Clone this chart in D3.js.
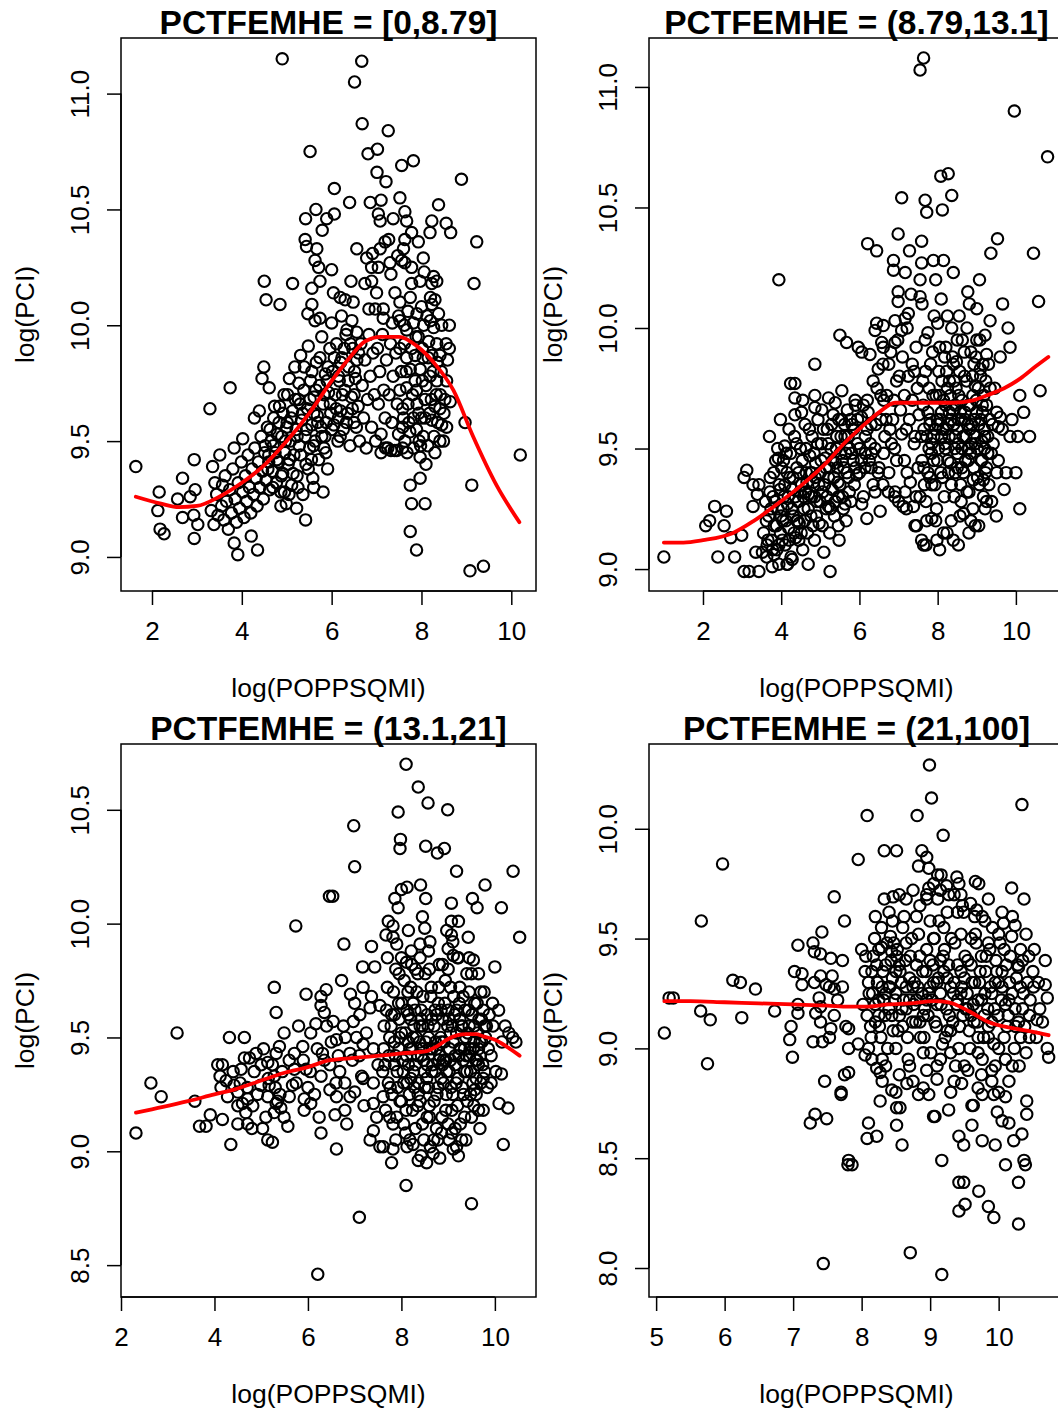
<!DOCTYPE html>
<html>
<head>
<meta charset="utf-8">
<script src="https://cdn.jsdelivr.net/npm/d3@7"></script>
<style>
  body { margin: 0; background: #fff; }
  svg { display: block; }
  text { font-family: "Liberation Sans", Arial, Helvetica, sans-serif; fill: #000; }
</style>
</head>
<body>
<svg id="chart" width="1058" height="1416"></svg>
<script>
// panel titles (conditioning intervals of PCTFEMHE)
const titles = ["PCTFEMHE = [0,8.79]", "PCTFEMHE = (8.79,13.1]", "PCTFEMHE = (13.1,21]", "PCTFEMHE = (21,100]"];
const xLabel = "log(POPPSQMI)";
const yLabel = "log(PCI)";

// tick values per panel
const xTicksTL = [2, 4, 6, 8, 10];
const yTicksTL = [9, 9.5, 10, 10.5, 11];
const xTicksTR = [2, 4, 6, 8, 10];
const yTicksTR = [9, 9.5, 10, 10.5, 11];
const xTicksBL = [2, 4, 6, 8, 10];
const yTicksBL = [8.5, 9, 9.5, 10, 10.5];
const xTicksBR = [5, 6, 7, 8, 9, 10];
const yTicksBR = [8, 8.5, 9, 9.5, 10];

// points: [log(POPPSQMI), log(PCI)]
const tlPoints = [
  [1.64,9.39],[2.16,9.28],[2.13,9.20],[2.18,9.12],[2.27,9.10],[2.57,9.25],[2.68,9.34],[2.68,9.17],[2.85,9.26],[2.96,9.29],
  [2.93,9.18],[3.02,9.14],[2.94,9.08],[2.94,9.42],[3.29,9.64],[3.74,9.73],[4.45,9.77],[4.49,9.82],[4.50,10.19],[4.54,10.11],
  [3.35,9.39],[3.51,9.44],[3.40,9.32],[3.57,9.31],[3.83,9.47],[4.02,9.51],[4.28,9.60],[4.39,9.63],[4.61,9.73],[3.83,9.06],
  [3.91,9.01],[4.35,9.03],[4.21,9.09],
  [3.32,9.20],[3.38,9.14],[3.44,9.27],[3.47,9.18],[3.55,9.22],[3.60,9.16],[3.63,9.35],[3.66,9.24],[3.70,9.12],[3.73,9.29],
  [3.77,9.19],[3.80,9.38],[3.85,9.25],[3.88,9.15],[3.92,9.32],[3.95,9.21],[3.99,9.41],[4.02,9.28],[4.05,9.17],[4.08,9.35],
  [4.11,9.24],[4.14,9.44],[4.17,9.30],[4.20,9.19],[4.23,9.38],[4.26,9.27],[4.29,9.47],[4.32,9.34],[4.34,9.22],[4.37,9.41],
  [4.40,9.30],[4.43,9.52],[4.46,9.37],[4.48,9.25],[4.51,9.45],[4.54,9.33],[4.57,9.56],[4.60,9.41],[4.62,9.29],[4.65,9.50],
  [4.68,9.37],[4.71,9.60],[4.74,9.45],[4.77,9.32],[4.79,9.53],
  [4.82,9.41],[4.84,9.65],[4.87,9.28],[4.89,9.52],[4.91,9.36],[4.94,9.70],[4.96,9.45],[4.99,9.23],[5.01,9.58],[5.03,9.40],
  [5.06,9.77],[5.08,9.50],[5.11,9.31],[5.13,9.63],[5.16,9.44],[5.18,9.82],[5.21,9.55],[5.23,9.35],[5.26,9.68],[5.28,9.48],
  [5.31,9.87],[5.33,9.59],[5.36,9.27],[5.38,9.72],[5.41,9.52],[5.43,9.40],[5.46,9.64],[5.48,9.91],[5.51,9.47],[5.53,9.76],
  [5.56,9.57],[5.58,9.34],[5.61,9.69],[5.63,9.50],[5.66,9.84],[5.68,9.61],[5.71,9.42],[5.73,9.74],[5.76,9.56],[5.78,9.95],
  [5.81,9.66],[5.83,9.47],[5.86,9.79],[5.88,9.58],[5.91,9.38],[5.93,9.71],[5.96,9.90],[5.98,9.62],
  [4.87,9.22],[5.42,9.16],[5.22,9.21],[5.81,9.28],[5.05,9.27],[5.60,9.30],
  [6.02,9.80],[6.05,9.57],[6.08,9.70],[6.11,9.92],[6.14,9.50],[6.17,9.76],[6.20,9.63],[6.23,9.86],[6.26,9.55],[6.29,9.72],
  [6.32,9.96],[6.35,9.62],[6.38,9.82],[6.41,9.48],[6.44,9.69],[6.47,9.90],[6.50,9.58],[6.53,9.77],[6.56,9.85],[6.59,9.65],
  [6.62,9.50],[6.65,9.92],[6.68,9.74],[6.71,9.60],[6.74,9.85],[6.77,9.47],[6.80,9.68],[6.83,9.96],[6.86,9.78],[6.89,9.56],
  [6.92,9.88],[6.95,9.70],[6.98,9.50],
  [7.02,9.90],[7.04,9.66],[7.07,9.80],[7.10,9.53],[7.13,9.96],[7.16,9.72],[7.19,9.60],[7.22,9.85],[7.25,9.47],[7.28,9.70],
  [7.31,9.92],[7.34,9.58],[7.37,9.78],[7.40,9.46],[7.43,9.88],[7.46,9.66],[7.49,9.53],[7.15,10.03],[7.35,10.01],
  [7.20,9.47],[7.32,9.46],[7.45,9.46],[7.58,9.47],[7.10,9.45],
  [4.90,11.15],[6.67,11.14],[6.51,11.05],[6.68,10.87],[7.26,10.84],[5.52,10.75],[6.81,10.74],[7.02,10.76],[7.01,10.66],[7.21,10.62],
  [6.06,10.59],[6.40,10.53],[6.86,10.53],[7.10,10.54],[5.65,10.50],[6.06,10.48],[5.42,10.46],[5.89,10.46],[5.79,10.41],[7.04,10.48],
  [7.08,10.45],[7.37,10.46],[7.27,10.37],[5.41,10.37],[5.44,10.34],[5.67,10.33],[5.63,10.28],[5.71,10.25],[6.56,10.33],[6.78,10.29],
  [6.91,10.31],[7.08,10.33],[7.19,10.36],[7.30,10.27],[7.32,10.22],[7.47,10.30],[7.04,10.25],[6.89,10.25],[6.00,10.24],[5.13,10.18],
  [4.85,10.09],[5.56,10.16],[5.74,10.19],[6.04,10.14],[6.19,10.12],[6.30,10.11],[6.48,10.10],[6.43,10.19],[6.74,10.18],[6.89,10.19],
  [7.00,10.14],[6.83,10.07],[6.97,10.07],[7.15,10.07],[7.41,10.14],[7.52,10.10],[7.49,10.04],[5.47,10.05],[5.63,10.02],[5.56,10.09],
  [5.74,10.03],[6.00,10.01],[6.22,10.04],[6.45,10.02],[6.56,9.97],[6.34,9.98],
  [7.82,10.71],[7.56,10.69],[8.89,10.63],[7.52,10.55],[8.38,10.52],[8.23,10.45],[8.19,10.40],[8.55,10.44],[8.65,10.40],[9.23,10.36],
  [7.63,10.49],[7.67,10.45],[7.78,10.40],[7.93,10.36],[7.63,10.37],[7.60,10.33],[8.04,10.29],[7.56,10.28],[7.63,10.27],[7.78,10.25],
  [8.06,10.23],[8.27,10.21],[8.34,10.19],[7.78,10.18],[7.97,10.19],[8.23,10.18],[9.17,10.18],[8.30,10.11],[8.23,10.09],[8.62,10.00],
  [8.62,9.90],
  [8.00,10.08],[8.12,10.04],[8.27,9.99],[7.82,10.01],[7.67,9.98],[7.52,10.02],[7.93,9.95],[8.16,9.93],[8.34,9.92],[8.41,9.87],
  [8.23,9.87],[8.04,9.86],[7.86,9.87],[7.67,9.86],[7.52,9.90],[7.75,9.81],[7.97,9.81],[8.19,9.78],[8.34,9.76],[8.56,9.76],
  [8.64,9.67],[8.41,9.64],[8.30,9.65],[8.08,9.68],[7.89,9.72],[7.67,9.73],[7.52,9.72],[7.60,9.60],[7.82,9.60],[8.00,9.60],
  [8.23,9.59],[8.45,9.57],[8.56,9.56],[8.41,9.50],[8.49,9.50],[8.04,9.52],[7.89,9.55],[7.63,9.50],[7.82,9.47],[7.97,9.43],
  [7.75,9.31],[7.97,9.34],[7.78,9.23],[8.08,9.23],[7.75,9.11],[7.89,9.03],[8.97,9.58],[9.12,9.31],[10.20,9.44],[9.08,8.94],
  [9.38,8.96],
  [7.55,9.80],[7.62,9.92],[7.70,9.66],[7.78,9.90],[7.86,9.76],[7.94,9.62],[8.02,9.90],[8.10,9.74],[8.18,9.62],[8.26,9.80],
  [8.33,9.70],[8.44,9.80],[8.52,9.68],[8.58,9.85],[7.58,9.56],[7.74,9.54],[7.90,9.66],[8.14,9.48],[8.36,9.58],[8.20,10.02],
  [7.70,10.06],[8.45,10.00]
];
// extra points in the crowded band
const tlCore = [
  [4.52,9.48],[4.58,9.38],[4.63,9.55],[4.69,9.30],[4.73,9.65],[4.78,9.42],[4.83,9.58],[4.88,9.35],[4.92,9.62],[4.97,9.50],
  [5.02,9.70],[5.06,9.42],[5.10,9.60],[5.14,9.36],[5.19,9.68],[5.23,9.52],[5.27,9.75],[5.31,9.44],[5.35,9.62],[5.39,9.82],
  [5.44,9.55],[5.48,9.38],[5.52,9.68],[5.56,9.80],[5.60,9.48],[5.65,9.72],[5.69,9.58],[5.74,9.86],[5.78,9.52],[5.83,9.70],
  [5.87,9.45],[5.92,9.82],[5.97,9.66],[6.01,9.55],[6.06,9.86],[6.10,9.64],[6.15,9.78],[6.19,9.52],[6.24,9.70],[6.28,9.90],
  [6.33,9.58],[6.37,9.76],[6.42,9.92],[6.46,9.64],[6.51,9.80],[6.55,9.56],[6.60,9.88],[4.95,9.28],[5.25,9.30],[5.55,9.42],
  [5.85,9.52],[6.15,9.60],[4.70,9.48],[5.00,9.56],[5.30,9.66],[5.60,9.62],[5.90,9.76],[6.20,9.84],[6.50,9.70],[4.60,9.44],
  [7.58,9.64],[7.66,9.80],[7.72,9.58],[7.80,9.70],[7.88,9.95],[7.95,9.50],[8.02,9.76],[8.08,9.60],[8.15,9.86],[8.22,9.68],
  [8.28,9.52],[8.35,9.84],[8.42,9.70],[8.50,9.62],[8.55,9.92],[7.62,10.00],[7.75,10.12],[7.90,10.05],[8.05,10.00],[8.20,10.12],
  [8.38,10.05],[7.68,9.45],[7.98,9.48],[8.30,9.45],[8.10,9.40]
];

const trPoints = [
  [1.00,9.05],[3.94,10.20],[4.24,9.77],[4.35,9.71],[4.35,9.64],[4.09,9.51],[3.93,9.46],[3.12,9.41],[3.05,9.38],[3.28,9.35],
  [3.43,9.35],[3.39,9.31],[3.28,9.26],[2.30,9.26],[2.60,9.24],[2.07,9.18],[2.17,9.20],[2.54,9.18],[2.71,9.13],[2.99,9.14],
  [2.38,9.05],[2.81,9.05],[3.05,8.99],[3.18,8.99],[3.43,8.99],[3.35,9.07],[3.52,9.07],[3.64,9.10],[3.77,9.01],[3.94,9.02],
  [3.82,9.06],[4.16,9.02],[4.28,9.04],
  [3.55,9.15],[3.60,9.28],[3.63,9.05],[3.68,9.22],[3.72,9.38],[3.75,9.12],[3.79,9.30],[3.82,9.18],[3.86,9.45],[3.89,9.08],
  [3.92,9.25],[3.95,9.35],[3.98,9.15],[4.01,9.42],[4.04,9.20],[4.07,9.30],[4.10,9.10],[4.13,9.48],[4.16,9.27],[4.19,9.17],
  [4.22,9.38],[4.25,9.05],[4.28,9.33],[4.31,9.22],[4.34,9.55],[4.37,9.13],[4.40,9.42],[4.43,9.28],[4.46,9.19],[4.49,9.50],
  [4.52,9.35],[4.55,9.08],[4.58,9.25],[4.61,9.60],[4.64,9.40],[4.67,9.15],[4.70,9.31],[4.73,9.47],[4.76,9.22],[4.79,9.55],
  [4.82,9.36],[4.85,9.12],[4.88,9.44],[4.91,9.28],[4.94,9.62],[4.97,9.19],[5.00,9.40],[5.03,9.52],[5.06,9.32],[5.09,9.07],
  [5.12,9.46],[5.15,9.25],[5.18,9.58],[5.21,9.38],[5.24,9.15],[5.27,9.50],[5.30,9.33],[5.33,9.64],[5.36,9.22],[5.39,9.44],
  [5.42,9.55],[5.45,9.36],[5.48,9.12],[5.51,9.48],[5.54,9.62],[5.57,9.30],[5.60,9.42],[5.63,9.55],[5.66,9.20],[5.69,9.66],
  [5.72,9.38],[5.75,9.50],[5.78,9.28],[5.81,9.60],[5.84,9.45],[5.87,9.35],[5.90,9.68],[5.95,9.52],[6.00,9.40],[6.05,9.63],
  [6.10,9.30],[6.15,9.55],[6.20,9.70],[6.25,9.45],[6.30,9.60],[6.35,9.35],[6.40,9.50],[6.45,9.75],[6.50,9.42],[6.55,9.62],
  [4.20,9.58],[4.55,9.70],[3.70,9.55],[3.98,9.62],[4.45,9.12],[4.15,9.02],[4.05,9.25],[4.40,9.20],[4.62,9.32],[4.78,9.40],
  [7.55,11.07],[7.64,11.12],[7.08,10.54],[7.68,10.53],[7.72,10.48],[6.99,10.39],[6.21,10.35],[6.44,10.32],[7.28,10.32],[6.87,10.28],
  [6.87,10.24],[7.17,10.23],[7.59,10.36],[7.59,10.27],[7.55,10.20],[6.99,10.15],[6.99,10.11],[7.32,10.14],[7.17,10.04],[7.55,10.13],
  [7.25,10.06],[6.44,10.02],[6.61,10.01],[6.40,9.99],[6.57,9.94],[6.61,9.92],[6.91,9.94],[7.08,9.99],[6.91,10.03],[5.50,9.97],
  [5.67,9.94],[5.97,9.92],[6.06,9.90],[6.27,9.89],[6.48,9.83],[5.55,9.74],[5.21,9.71],[4.86,9.72],[4.86,9.67],[4.52,9.65],
  [4.35,9.77],[5.04,9.66],[5.38,9.69],[5.89,9.70],[4.86,9.85],
  [4.69,9.02],[5.25,8.99],[5.46,9.18],[6.19,9.21],[6.53,9.24],[7.42,9.18],[7.59,9.12],[5.63,9.27],[6.06,9.27],[6.40,9.32],
  [5.93,9.39],[6.14,9.42],[6.31,9.48],[5.46,9.30],[5.21,9.26],[4.86,9.30],[6.74,9.32],[6.91,9.32],[7.17,9.32],[7.12,9.26],
  [7.38,9.26],[7.46,9.18],
  [6.60,9.85],[6.65,9.55],[6.70,9.72],[6.75,9.40],[6.80,9.90],[6.85,9.62],[6.90,9.50],[6.95,9.78],[7.00,9.28],[7.05,9.66],
  [7.10,9.88],[7.15,9.45],[7.20,9.58],[7.25,9.80],[7.30,9.36],[7.35,9.70],[7.40,9.52],[7.45,9.92],[7.50,9.42],[7.52,9.64],
  [6.62,9.70],[6.78,9.58],[6.98,9.95],[7.22,10.00],[7.40,9.82],
  [9.96,10.90],[10.81,10.71],[8.08,10.63],[8.27,10.64],[8.36,10.55],[8.12,10.49],[9.53,10.37],[9.36,10.31],[10.45,10.31],[10.58,10.11],
  [9.66,10.10],[9.07,10.20],[8.77,10.15],[8.40,10.23],[8.15,10.28],[7.89,10.28],[10.62,9.74],
  [9.34,10.03],[9.21,9.97],[9.25,9.89],[9.09,9.83],[8.96,9.76],[9.51,9.65],[9.60,9.63],[9.55,9.59],[9.85,9.55],[9.13,9.53],
  [9.51,9.40],[9.17,9.37],[8.91,9.37],[9.25,9.42],[9.21,9.25],[8.96,9.18],[8.66,9.23],[8.53,9.10],[7.98,9.12],[7.85,9.21],
  [7.64,9.10],
  [7.55,9.30],[7.58,9.55],[7.62,9.78],[7.65,9.42],[7.68,9.95],[7.72,9.20],[7.75,9.65],[7.78,9.50],[7.82,9.85],[7.85,9.35],
  [7.88,9.72],[7.91,10.05],[7.94,9.58],[7.97,9.25],[8.00,9.45],[8.03,9.82],[8.06,9.62],[8.09,10.12],[8.12,9.38],[8.15,9.70],
  [8.18,9.52],[8.21,9.92],[8.24,9.15],[8.27,9.60],[8.30,9.78],[8.33,9.44],[8.36,10.00],[8.39,9.66],[8.42,9.30],[8.45,9.55],
  [8.48,9.86],[8.51,9.48],[8.54,9.72],[8.57,9.22],[8.60,9.62],[8.63,9.95],[8.66,9.40],[8.69,9.80],[8.72,9.55],[8.75,9.32],
  [8.78,9.68],[8.81,10.10],[8.84,9.48],[8.87,9.60],[8.90,9.25],[8.93,9.85],[8.96,9.52],[8.99,9.70],[9.02,9.38],[9.05,9.60],
  [9.08,9.95],[9.11,9.45],[9.14,9.68],[9.17,9.30],[9.20,9.55],[9.23,9.78],[9.28,9.48],[9.33,9.62],[9.38,9.28],[9.42,9.52],
  [9.46,9.75],[9.55,9.45],[9.65,9.58],[9.75,9.40],[9.90,9.62],[10.05,9.55],[7.70,9.10],[8.05,9.08],[8.35,9.20],[8.80,9.15],
  [7.60,10.10],[7.95,10.20],[8.55,10.05],[9.00,10.08],[8.20,9.50],[8.30,9.65],[8.45,9.40],[8.50,9.58],[8.62,9.50],[8.70,9.65],
  [7.80,9.60],[7.90,9.45],[8.10,9.55],[8.25,9.75],[8.40,9.85],[8.85,9.90],[9.10,9.80],[9.30,9.85],
  [9.60,9.88],[9.85,9.92],[10.10,9.72],[10.20,9.65],[10.35,9.55],[9.80,10.00],[10.00,9.40],[9.70,9.33],[10.10,9.25],[9.50,9.22]
];
const trCore = [
  [3.62,9.20],[3.66,9.12],[3.71,9.32],[3.74,9.25],[3.78,9.08],[3.81,9.40],[3.84,9.28],[3.88,9.18],[3.91,9.50],[3.94,9.10],
  [3.97,9.33],[4.00,9.22],[4.03,9.12],[4.06,9.45],[4.09,9.35],[4.12,9.20],[4.15,9.40],[4.18,9.30],[4.21,9.12],[4.24,9.48],
  [4.27,9.25],[4.30,9.38],[4.33,9.15],[4.36,9.30],[4.39,9.52],[4.42,9.20],[4.45,9.40],[4.48,9.32],[4.51,9.15],[4.54,9.45],
  [4.57,9.30],[4.60,9.20],[4.63,9.50],[4.66,9.36],[4.69,9.25],[4.72,9.58],[4.75,9.40],[4.78,9.30],[4.81,9.18],[4.84,9.48],
  [4.87,9.38],[4.90,9.22],[4.93,9.52],[4.96,9.35],[4.99,9.28],[5.02,9.45],[5.05,9.18],[5.08,9.58],[5.11,9.35],[5.14,9.42],
  [5.17,9.30],[5.20,9.52],[5.23,9.42],[5.26,9.25],[5.29,9.60],[5.32,9.45],[5.35,9.38],[5.38,9.28],[5.41,9.50],[5.44,9.42],
  [5.47,9.62],[5.50,9.35],[5.53,9.55],[5.56,9.45],[5.59,9.25],[5.62,9.60],[5.65,9.48],[5.68,9.40],[5.71,9.55],[5.74,9.32],
  [5.77,9.62],[5.80,9.48],[5.85,9.58],[5.90,9.42],[5.95,9.62],[6.00,9.50],[6.05,9.45],[6.10,9.68],[6.15,9.48],[6.20,9.58],
  [6.22,9.65],[6.28,9.52],[6.35,9.78],[6.42,9.60],[6.48,9.40],[6.55,9.72],[6.62,9.48],[6.68,9.62],[6.75,9.85],[6.82,9.52],
  [6.88,9.70],[6.95,9.45],[7.02,9.80],[7.08,9.56],[7.15,9.72],[7.22,9.40],[7.28,9.62],[7.35,9.85],[7.42,9.55],[7.48,9.75],
  [6.60,9.35],[6.90,9.30],[7.20,9.25],[7.45,9.30],[6.30,9.42],
  [7.60,9.45],[7.63,9.68],[7.66,9.35],[7.69,9.82],[7.72,9.55],[7.75,9.40],[7.78,9.75],[7.81,9.62],[7.84,9.48],[7.87,9.90],
  [7.90,9.55],[7.93,9.35],[7.96,9.72],[7.99,9.62],[8.02,9.50],[8.05,9.92],[8.08,9.40],[8.11,9.78],[8.14,9.58],[8.17,9.30],
  [8.20,9.68],[8.23,9.82],[8.26,9.45],[8.29,9.55],[8.32,9.72],[8.35,9.35],[8.38,9.88],[8.41,9.60],[8.44,9.50],[8.47,9.75],
  [8.50,9.42],[8.53,9.62],[8.56,9.82],[8.59,9.35],[8.62,9.70],[8.65,9.55],[8.68,9.90],[8.71,9.45],[8.74,9.78],[8.77,9.60],
  [8.80,9.32],[8.83,9.68],[8.86,9.52],[8.89,9.80],[8.92,9.42],[8.95,9.62],[8.98,9.88],[9.01,9.50],[9.04,9.75],[9.07,9.35],
  [9.10,9.62],[9.13,9.45],[9.16,9.85],[9.19,9.58],[9.22,9.40],[9.25,9.68],[9.28,9.55],[9.31,9.35],[9.34,9.75],[9.37,9.48],
  [7.70,9.28],[7.95,9.20],[8.15,9.15],[8.40,9.12],[8.60,9.28],[8.85,9.20],[9.05,9.18],[9.25,9.28],[7.75,9.98],[8.00,10.02],
  [8.25,10.05],[8.50,9.95],[8.75,10.00],[9.00,9.95],[8.10,9.65],[8.35,9.62],[8.58,9.65],[8.82,9.58],[8.05,9.72],[8.28,9.40],
  [8.52,9.52],[8.78,9.45],[8.95,9.55],[9.15,9.65],[7.85,9.52],[8.18,9.88],[8.45,9.68],[8.70,9.62],[8.90,9.72],[9.20,9.50],
  [7.65,9.58],[7.80,9.38],[8.00,9.60],[8.22,9.58],[8.42,9.78],[8.62,9.42],[8.80,9.50],[9.00,9.65],[9.18,9.72],[9.40,9.60]
];

const blPoints = [
  [2.32,9.08],[2.64,9.30],[2.86,9.24],[3.20,9.52],[3.58,9.22],[3.68,9.11],[3.82,9.11],[3.91,9.16],[4.17,9.14],[4.35,9.03],
  [4.07,9.38],[4.17,9.38],[4.12,9.33],[4.14,9.28],[4.25,9.31],[4.28,9.24],[4.32,9.50],[4.64,9.50],[4.57,9.36],[4.64,9.41],
  [4.75,9.41],[4.89,9.43],[5.05,9.45],
  [4.42,9.29],[4.50,9.26],[4.60,9.21],[4.71,9.23],[4.50,9.20],[4.67,9.17],[4.71,9.12],[4.50,9.12],[4.82,9.20],[4.92,9.25],
  [4.99,9.29],[5.14,9.24],[5.17,9.29],[5.28,9.33],[5.14,9.39],[5.32,9.43],[5.39,9.46],[5.49,9.52],[5.24,9.38],[5.35,9.22],
  [5.42,9.19],[5.28,9.17],[5.49,9.15],[5.57,9.11],[5.10,9.15],[5.03,9.10],[5.14,9.05],[5.24,9.04],[5.32,9.21],[5.60,9.24],
  [5.67,9.29],[5.71,9.36],[5.71,9.43],[5.89,9.46],[5.96,9.36],[5.92,9.23],[6.06,9.21],[6.14,9.25],[5.92,9.18],[6.24,9.15],
  [6.28,9.08],[6.28,9.33],[6.31,9.43],[6.06,9.52],[6.17,9.56],[5.96,9.69],[5.28,9.72],[5.32,9.61],[5.74,9.99],[6.39,9.71],
  [6.28,9.68],[6.28,9.64],[6.35,9.61],[6.21,8.46],[6.46,10.12],
  [8.10,10.70],[8.36,10.60],[8.57,10.53],[7.93,10.49],[8.99,10.50],[6.98,10.43],[7.98,10.37],[7.97,10.33],[8.52,10.34],[8.77,10.31],
  [8.92,10.33],[9.18,10.23],[10.39,10.23],[7.00,10.25],[6.53,10.12],[8.00,10.15],[8.12,10.16],[7.86,10.11],[7.93,10.07],[8.41,10.17],
  [8.52,10.11],[9.07,10.09],[9.52,10.11],[9.62,10.07],[9.79,10.17],[10.14,10.07],[10.53,9.94],[6.77,9.91],[7.36,9.90],[7.43,9.81],
  [8.11,9.83],[8.22,9.82],[10.00,9.81],[9.54,9.84],[9.00,9.89],[9.11,9.86],[9.22,9.85],
  [7.72,10.01],[7.82,9.99],[7.67,9.95],[7.82,9.94],[7.90,9.91],[8.15,9.97],[8.45,10.03],[8.50,9.98],[8.40,9.91],[8.61,9.92],
  [8.97,9.97],[9.07,9.95],[9.22,10.01],[9.07,10.01],[9.43,9.94],
  [7.33,9.05],[7.54,9.02],[7.61,9.02],[7.79,8.95],[7.82,9.01],[8.10,8.85],[8.25,9.03],[8.36,8.96],[8.54,8.95],[8.68,8.99],
  [8.86,9.08],[9.11,9.01],[9.18,9.02],[9.29,9.05],[9.50,8.77],[10.18,9.03],[10.09,9.21],[10.28,9.19],[10.14,9.34],[9.75,9.32],
  [9.57,9.27],[6.61,9.01],[7.10,8.71],
  [6.72,9.75],[6.91,9.69],[7.17,9.81],[7.18,9.72],[7.36,9.68],[7.54,9.64],[7.33,9.63],[7.11,9.60],[6.97,9.57],[6.76,9.55],
  [6.54,9.57],[6.61,9.49],[7.04,9.50],[7.18,9.47],[6.90,9.43],[6.47,9.38],[6.68,9.35],[7.18,9.32],[6.79,9.30],[6.47,9.27],
  [6.61,9.24],[6.90,9.24],[7.00,9.26],[7.15,9.33],[7.40,9.30],[6.79,9.18],[6.58,9.16],[6.83,9.12],[7.40,9.21],[7.47,9.15],
  [7.61,9.24],[7.40,9.09],
  [7.60,9.35],[7.63,9.55],[7.66,9.18],[7.70,9.72],[7.73,9.42],[7.76,9.28],[7.79,9.60],[7.82,9.12],[7.85,9.48],[7.88,9.80],
  [7.91,9.35],[7.94,9.65],[7.97,9.22],[8.00,9.52],[8.03,9.40],[8.06,9.75],[8.09,9.08],[8.12,9.30],[8.15,9.60],[8.18,9.45],
  [8.21,9.88],[8.24,9.18],[8.27,9.55],[8.30,9.38],[8.33,9.70],[8.36,9.25],[8.39,9.48],[8.42,9.62],[8.45,9.12],[8.48,9.40],
  [8.51,9.78],[8.54,9.32],[8.57,9.55],[8.60,9.20],[8.63,9.68],[8.66,9.45],[8.69,9.05],[8.72,9.35],[8.75,9.60],[8.78,9.28],
  [8.81,9.82],[8.84,9.50],[8.87,9.15],[8.90,9.40],[8.93,9.65],[8.96,9.25],[8.99,9.55],[9.02,9.35],[9.05,9.72],[9.08,9.18],
  [9.11,9.48],[9.14,9.60],[9.17,9.30],[9.20,9.85],[9.23,9.42],[9.26,9.12],[9.29,9.55],[9.32,9.68],[9.35,9.35],[9.38,9.50],
  [9.41,9.22],[9.44,9.62],[9.47,9.45],[9.50,9.78],[9.53,9.30],[9.56,9.55],[9.59,9.40],[9.62,9.65],[9.65,9.18],[9.68,9.48],
  [9.71,9.58],[9.74,9.38],[9.77,9.70],[9.80,9.50],[9.84,9.28],[9.88,9.60],[9.92,9.42],[9.96,9.55],[10.02,9.35],[10.08,9.62],
  [10.15,9.48],[10.22,9.55],[10.30,9.52],[10.38,9.50],[10.45,9.48]
];
const blCore = [
  [7.75,9.50],[7.85,9.38],[7.95,9.58],[8.05,9.30],[8.15,9.48],[8.25,9.65],[8.35,9.42],[8.45,9.55],[8.55,9.38],[8.65,9.58],
  [8.75,9.45],[8.85,9.62],[8.95,9.40],[9.05,9.52],[9.15,9.38],[9.25,9.58],[9.35,9.45],[9.45,9.55],[9.55,9.48],[9.65,9.38],
  [7.80,9.25],[7.90,9.15],[8.00,9.22],[8.10,9.18],[8.20,9.32],[8.30,9.10],[8.40,9.22],[8.50,9.28],[8.60,9.15],[8.70,9.22],
  [8.80,9.40],[8.90,9.30],[9.00,9.12],[9.10,9.25],[9.20,9.20],[9.30,9.28],[9.40,9.35],[9.50,9.15],[9.60,9.25],[9.70,9.30],
  [7.70,9.85],[7.95,9.78],[8.20,9.72],[8.40,9.85],[8.60,9.80],[8.80,9.72],[9.00,9.80],[9.25,9.72],[9.45,9.85],[9.65,9.78],
  [8.12,9.02],[8.42,8.98],[8.62,9.02],[8.82,8.97],[9.02,9.05],[9.22,8.98],
  [7.62,9.45],[7.68,9.62],[7.72,9.30],[7.78,9.55],[7.83,9.70],[7.87,9.42],[7.92,9.28],[7.96,9.50],[8.01,9.65],[8.04,9.35],
  [8.08,9.52],[8.11,9.42],[8.14,9.70],[8.17,9.25],[8.20,9.58],[8.23,9.45],[8.26,9.35],[8.29,9.62],[8.32,9.50],[8.35,9.78],
  [8.37,9.30],[8.40,9.55],[8.43,9.42],[8.46,9.68],[8.49,9.35],[8.52,9.48],[8.55,9.60],[8.58,9.28],[8.61,9.45],[8.64,9.72],
  [8.67,9.38],[8.70,9.55],[8.73,9.48],[8.76,9.25],[8.79,9.65],[8.82,9.42],[8.85,9.32],[8.88,9.58],[8.91,9.48],[8.94,9.75],
  [8.97,9.35],[9.00,9.62],[9.03,9.45],[9.06,9.28],[9.09,9.55],[9.12,9.68],[9.15,9.42],[9.18,9.52],[9.21,9.32],[9.24,9.65],
  [9.27,9.45],[9.30,9.55],[9.33,9.25],[9.36,9.62],[9.39,9.42],[9.42,9.52],[9.45,9.70],[9.48,9.35],[9.51,9.60],[9.54,9.45],
  [9.57,9.65],[9.60,9.32],[9.63,9.52],[9.66,9.58],[9.69,9.42],[9.72,9.48],[9.75,9.62],[9.78,9.35],[9.82,9.55],[9.86,9.45],
  [7.65,9.38],[7.75,9.15],[7.85,9.60],[7.95,9.45],[8.05,9.12],[8.15,9.38],[8.25,9.50],[8.35,9.20],[8.45,9.45],[8.55,9.15],
  [8.65,9.35],[8.75,9.10],[8.85,9.48],[8.95,9.18],[9.05,9.40],[9.15,9.10],[9.25,9.45],[9.35,9.15],[9.45,9.42],[9.55,9.20],
  [9.65,9.45],[9.75,9.18],[7.88,9.05],[8.18,9.05],[8.48,9.05],[8.78,9.05],[9.08,9.08],[9.38,9.05],[9.68,9.10],[9.92,9.30],
  [8.00,9.85],[8.30,9.80],[8.58,9.88],[8.88,9.82],[9.10,9.92],[9.40,9.78],[9.70,9.70],[9.95,9.65],[8.12,9.62],[8.42,9.58],
  [8.72,9.62],[9.02,9.58],[9.32,9.40],[9.62,9.40],[8.28,9.28],[8.58,9.50],[8.88,9.38],[9.18,9.62],[9.48,9.25],[9.78,9.55],
  [4.40,9.35],[4.55,9.30],[4.70,9.28],[4.85,9.35],[5.00,9.38],[5.15,9.32],[5.30,9.28],[5.45,9.35],[5.60,9.40],[5.75,9.30],
  [5.90,9.40],[6.05,9.35],[6.20,9.45],[6.35,9.40],[6.50,9.48],[6.65,9.42],[6.80,9.50],[6.95,9.40],[7.10,9.42],[7.25,9.52],
  [7.40,9.45],[7.50,9.38],[4.80,9.10],[5.40,9.25],[6.00,9.28],[6.60,9.30],[7.20,9.20],[6.40,9.55],[7.00,9.65],[5.80,9.55]
];

const brPoints = [
  [5.97,9.84],[5.66,9.58],[6.12,9.31],[6.23,9.30],[6.45,9.27],[5.19,9.23],[5.25,9.23],[5.65,9.17],[5.79,9.13],[6.25,9.14],
  [6.73,9.17],[5.12,9.07],[5.75,8.93],[7.60,9.69],[7.75,9.58],
  [7.42,9.53],[7.29,9.48],[7.31,9.44],[7.40,9.43],[7.07,9.47],[7.55,9.41],[7.72,9.40],[7.02,9.35],[7.13,9.34],[7.13,9.29],
  [7.31,9.30],[7.40,9.33],[7.48,9.29],[7.57,9.33],[7.53,9.28],[7.60,9.27],[7.65,9.22],[7.72,9.28],[7.38,9.23],[7.07,9.20],
  [7.07,9.16],[7.33,9.16],[7.40,9.19],[7.60,9.15],[7.77,9.10],[7.40,9.12],[7.55,9.09],[7.53,9.05],[7.43,9.03],[7.29,9.03],
  [6.97,9.10],[6.95,9.04],[6.99,8.96],[7.75,8.88],[7.46,8.85],[7.70,8.80],[7.70,8.79],[7.32,8.70],[7.25,8.66],[7.49,8.68],
  [7.80,8.47],[7.44,8.02],
  [8.99,10.29],[9.02,10.14],[10.34,10.11],[8.08,10.06],[8.81,10.06],[9.19,9.97],[7.95,9.86],[8.33,9.90],[8.51,9.90],[8.88,9.90],
  [8.95,9.87],[8.83,9.83],[8.98,9.82],[9.11,9.79],[9.16,9.79],[9.39,9.78],[9.24,9.74],[9.42,9.75],[9.66,9.76],[9.71,9.75],
  [10.19,9.73],[10.37,9.68],[8.33,9.68],[8.46,9.69],[8.98,9.73],[8.95,9.68],[9.11,9.68],[9.27,9.70],[9.47,9.65],[9.59,9.66],
  [9.68,9.63],[9.76,9.60],[10.07,9.57],[10.24,9.56],[10.19,9.51],[8.00,9.45],[8.29,9.46],[8.42,9.51],[8.44,9.44],[8.51,9.42],
  [10.32,9.45],[10.44,9.42],[10.29,9.37],[10.51,9.28],[10.68,9.29],[10.71,9.23],[10.56,9.13],[10.71,9.00],[10.73,8.96],
  [7.81,9.09],[7.81,9.00],[7.81,8.89],[7.95,9.02],[8.05,8.97],[8.22,8.91],[8.27,8.89],
  [8.27,8.76],[8.44,8.81],[8.51,8.73],[8.56,8.73],[8.66,8.84],[8.83,8.79],[8.98,8.79],[9.05,8.69],[9.07,8.69],[9.27,8.72],
  [9.46,8.84],[9.61,8.74],[9.63,8.74],[9.76,8.79],[9.93,8.79],[10.00,8.80],[9.98,8.71],[10.05,8.67],[10.15,8.66],[10.41,8.76],
  [10.41,8.70],[10.34,8.61],[10.22,8.58],[9.95,8.56],[9.76,8.58],[9.61,8.65],[9.42,8.60],[9.49,8.56],[9.17,8.49],[9.42,8.39],
  [9.49,8.39],[9.71,8.35],[9.85,8.28],[9.93,8.23],[10.29,8.39],[10.37,8.49],[10.39,8.47],[10.10,8.47],[10.29,8.20],[9.51,8.29],
  [9.42,8.26],[8.10,8.66],[8.08,8.59],[8.22,8.60],[8.59,8.56],[8.51,8.65],[8.71,8.07],[9.17,7.97],[7.86,8.47],[7.81,8.49],
  [8.05,9.35],[8.08,9.15],[8.11,9.25],[8.14,9.05],[8.17,9.42],[8.20,9.20],[8.23,9.30],[8.26,9.10],[8.29,9.55],[8.32,9.22],
  [8.35,9.38],[8.38,9.00],[8.41,9.28],[8.44,9.15],[8.47,9.48],[8.50,9.25],[8.53,9.08],[8.56,9.35],[8.59,9.18],[8.62,9.60],
  [8.65,9.28],[8.68,8.95],[8.71,9.42],[8.74,9.12],[8.77,9.30],[8.80,9.22],[8.83,9.52],[8.86,9.05],[8.89,9.35],[8.92,9.18],
  [8.95,9.45],[8.98,9.25],[9.01,8.98],[9.04,9.38],[9.07,9.12],[9.10,9.30],[9.13,9.58],[9.16,9.20],[9.19,9.42],[9.22,9.05],
  [9.25,9.32],[9.28,9.15],[9.31,9.50],[9.34,9.25],[9.37,8.92],[9.40,9.38],[9.43,9.10],[9.46,9.28],[9.49,9.62],[9.52,9.18],
  [9.55,9.40],[9.58,9.00],[9.61,9.30],[9.64,9.12],[9.67,9.48],[9.70,9.22],[9.73,9.35],[9.76,8.95],[9.79,9.15],[9.82,9.42],
  [9.85,9.05],[9.88,9.28],[9.91,9.55],[9.94,9.18],[9.97,9.35],[10.00,9.00],[10.04,9.22],[10.08,9.45],[10.12,9.10],[10.16,9.30],
  [10.20,8.92],[10.24,9.18],[10.28,9.38],[10.32,9.05],[10.36,9.25],[10.40,8.98],[10.45,9.15],[10.50,9.35],[10.55,9.05],[10.60,9.18]
];
const brCore = [
  [8.20,9.12],[8.30,9.28],[8.40,9.18],[8.50,9.35],[8.60,9.10],[8.70,9.22],[8.80,9.38],[8.90,9.15],[9.00,9.28],[9.10,9.20],
  [9.20,9.35],[9.30,9.08],[9.40,9.22],[9.50,9.32],[9.60,9.15],[9.70,9.05],[9.80,9.25],[9.90,9.12],[10.0,9.30],[10.1,9.20],
  [8.25,9.45],[8.45,9.58],[8.65,9.48],[8.85,9.65],[9.05,9.50],[9.25,9.62],[9.45,9.52],[9.65,9.60],[9.85,9.48],[10.05,9.62],
  [8.35,8.92],[8.55,8.88],[8.75,8.85],[8.95,8.90],[9.15,8.95],[9.35,8.85],[9.55,8.90],[9.75,8.88],[9.95,8.92],[10.15,8.85],
  [8.15,8.95],[8.95,9.70],[9.15,9.72],[9.35,9.70],[8.75,9.72],[8.55,9.70],
  [8.02,9.20],[8.06,9.42],[8.10,9.30],[8.13,9.10],[8.16,9.25],[8.19,9.50],[8.22,9.38],[8.25,9.22],[8.28,9.05],[8.31,9.35],
  [8.34,9.15],[8.37,9.48],[8.40,9.28],[8.43,9.40],[8.46,9.08],[8.49,9.22],[8.52,9.45],[8.55,9.15],[8.58,9.30],[8.61,9.22],
  [8.64,9.40],[8.67,9.05],[8.70,9.32],[8.73,9.50],[8.76,9.20],[8.79,9.12],[8.82,9.28],[8.85,9.42],[8.88,9.25],[8.91,9.05],
  [8.94,9.35],[8.97,9.15],[9.00,9.40],[9.03,9.22],[9.06,9.50],[9.09,9.10],[9.12,9.32],[9.15,9.25],[9.18,9.02],[9.21,9.45],
  [9.24,9.18],[9.27,9.38],[9.30,9.28],[9.33,9.12],[9.36,9.48],[9.39,9.20],[9.42,9.00],[9.45,9.35],[9.48,9.15],[9.51,9.42],
  [9.54,9.25],[9.57,9.08],[9.60,9.38],[9.63,9.20],[9.66,9.52],[9.69,9.12],[9.72,9.30],[9.75,9.42],[9.78,9.05],[9.81,9.35],
  [9.84,9.18],[9.87,9.45],[9.90,9.25],[9.93,9.02],[9.96,9.40],[9.99,9.15],[10.02,9.48],[10.05,9.28],[10.08,9.05],[10.11,9.38],
  [10.14,9.15],[10.17,9.42],[10.20,9.25],[10.23,9.00],[10.26,9.32],[10.29,9.12],[10.32,9.28],[10.35,9.40],[10.38,9.10],[10.42,9.30],
  [10.46,9.22],[10.52,9.45],[10.58,9.30],[10.64,9.12],[10.68,9.40],
  [8.10,9.00],[8.30,8.95],[8.50,9.00],[8.70,8.92],[8.90,8.98],[9.10,8.92],[9.30,8.98],[9.50,8.92],[9.70,8.98],[9.90,8.90],
  [10.10,8.95],[10.30,8.92],[8.20,9.60],[8.40,9.62],[8.60,9.55],[8.80,9.60],[9.00,9.58],[9.20,9.55],[9.40,9.62],[9.60,9.50],
  [9.80,9.58],[10.00,9.52],[10.20,9.60],[10.40,9.52],[8.15,9.35],[8.35,9.25],[8.55,9.38],[8.75,9.28],[8.95,9.22],[9.15,9.40],
  [9.35,9.30],[9.55,9.18],[9.75,9.22],[9.95,9.30],[10.15,9.22],[10.35,9.18],[8.25,9.15],[8.45,9.32],[8.65,9.18],[8.85,9.12],
  [9.05,9.30],[9.25,9.08],[9.45,9.25],[9.65,9.30],[9.85,9.10],[10.05,9.35],[10.25,9.10],[10.45,9.05],[8.50,8.80],[8.90,8.82],
  [9.30,8.80],[9.70,8.82],[10.10,8.78],[8.30,8.85],[9.10,8.86],[9.90,8.85],[8.65,9.68],[9.05,9.75],[9.45,9.70],[9.85,9.68]
];

// loess smooth
const tlFit = [[1.64,9.26],[2.2,9.23],[2.6,9.215],[3.0,9.22],[3.5,9.26],[4.0,9.32],[4.52,9.40],[5.0,9.50],[5.5,9.62],[6.0,9.76],
  [6.4,9.86],[6.74,9.93],[7.1,9.95],[7.5,9.95],[7.9,9.91],[8.27,9.84],[8.71,9.72],[9.15,9.52],[9.67,9.31],[10.18,9.15]];
const trFit = [[1.00,9.11],[1.5,9.11],[2.0,9.12],[2.77,9.15],[3.3,9.20],[3.9,9.27],[4.46,9.34],[5.21,9.45],[5.6,9.52],[6.06,9.59],
  [6.5,9.65],[6.91,9.69],[7.3,9.69],[7.8,9.69],[8.4,9.69],[8.9,9.70],[9.25,9.72],[9.7,9.75],[10.11,9.79],[10.5,9.84],[10.83,9.88]];
const blFit = [[2.32,9.17],[2.9,9.195],[3.43,9.22],[4.0,9.25],[4.4,9.27],[4.85,9.30],[5.5,9.345],[6.0,9.37],[6.47,9.40],[7.0,9.41],
  [7.54,9.42],[8.0,9.43],[8.54,9.44],[8.75,9.46],[8.97,9.49],[9.2,9.51],[9.39,9.515],[9.6,9.515],[9.75,9.505],[10.0,9.49],
  [10.25,9.46],[10.53,9.42]];
const brFit = [[5.12,9.215],[5.5,9.215],[6.0,9.21],[6.5,9.205],[7.0,9.20],[7.5,9.195],[7.81,9.19],[8.1,9.19],[8.39,9.20],[8.7,9.205],
  [9.07,9.215],[9.27,9.21],[9.56,9.17],[9.85,9.12],[10.24,9.09],[10.5,9.075],[10.73,9.06]];

// layout of the 2x2 grid (R's usr ranges, 4% beyond the data)
const panels = [
  { title: titles[0], pts: tlPoints.concat(tlCore), fit: tlFit, left: 121, top: 38, xDom: [1.31, 10.55], yDom: [8.853, 11.24], xt: xTicksTL, yt: yTicksTL },
  { title: titles[1], pts: trPoints.concat(trCore), fit: trFit, left: 649, top: 38, xDom: [0.62, 11.23], yDom: [8.909, 11.203], xt: xTicksTR, yt: yTicksTR },
  { title: titles[2], pts: blPoints.concat(blCore), fit: blFit, left: 121, top: 744, xDom: [2.0, 10.88], yDom: [8.36, 10.789], xt: xTicksBL, yt: yTicksBL },
  { title: titles[3], pts: brPoints.concat(brCore), fit: brFit, left: 649, top: 744, xDom: [4.896, 10.954], yDom: [7.868, 10.386], xt: xTicksBR, yt: yTicksBR }
];
const boxW = 415, boxH = 553;

const svg = d3.select("#chart");
svg.append("rect").attr("width", 1058).attr("height", 1416).attr("fill", "#fff");

panels.forEach(p => {
  const g = svg.append("g").attr("transform", `translate(${p.left},${p.top})`);
  const x = d3.scaleLinear().domain(p.xDom).range([0, boxW]);
  const y = d3.scaleLinear().domain(p.yDom).range([boxH, 0]);

  // points
  g.append("g").selectAll("circle")
    .data(p.pts)
    .enter().append("circle")
    .attr("cx", d => x(d[0]))
    .attr("cy", d => y(d[1]))
    .attr("r", 5.7)
    .attr("fill", "none")
    .attr("stroke", "#000")
    .attr("stroke-width", 2.1);

  // loess line
  const line = d3.line().x(d => x(d[0])).y(d => y(d[1])).curve(d3.curveMonotoneX);
  g.append("path").datum(p.fit)
    .attr("d", line)
    .attr("fill", "none")
    .attr("stroke", "#ff0000")
    .attr("stroke-width", 3.8)
    .attr("stroke-linecap", "round");

  // box
  g.append("rect").attr("width", boxW).attr("height", boxH)
    .attr("fill", "none").attr("stroke", "#000").attr("stroke-width", 1.5);

  // x axis
  const xa = g.append("g").attr("transform", `translate(0,${boxH})`)
    .call(d3.axisBottom(x).tickValues(p.xt).tickFormat(d3.format("d")).tickSize(14).tickPadding(17));
  xa.select(".domain").attr("stroke-width", 1.5).attr("d", `M${x(p.xt[0])},0H${x(p.xt[p.xt.length - 1])}`);
  xa.selectAll(".tick line").attr("stroke-width", 1.5);
  xa.selectAll("text").attr("font-size", 26).attr("font-family", null);

  // y axis, labels rotated as in R
  const ya = g.append("g")
    .call(d3.axisLeft(y).tickValues(p.yt).tickFormat(d3.format(".1f")).tickSize(14));
  ya.select(".domain").attr("stroke-width", 1.5).attr("d", `M0,${y(p.yt[0])}V${y(p.yt[p.yt.length - 1])}`);
  ya.selectAll(".tick line").attr("stroke-width", 1.5);
  ya.selectAll("text")
    .attr("x", null).attr("dy", null)
    .attr("font-size", 26).attr("font-family", null)
    .attr("text-anchor", "middle")
    .attr("transform", "translate(-41,0) rotate(-90)")
    .attr("y", 9);

  // axis titles
  g.append("text").attr("x", boxW / 2).attr("y", boxH + 106)
    .attr("text-anchor", "middle").attr("font-size", 26.5).text(xLabel);
  g.append("text").attr("transform", `translate(-96,${boxH / 2}) rotate(-90)`)
    .attr("text-anchor", "middle").attr("font-size", 26.5).attr("y", 9).text(yLabel);

  // panel title
  g.append("text").attr("x", boxW / 2).attr("y", -4)
    .attr("text-anchor", "middle").attr("font-size", 33.5).attr("font-weight", "bold")
    .text(p.title);
});
</script>
</body>
</html>
